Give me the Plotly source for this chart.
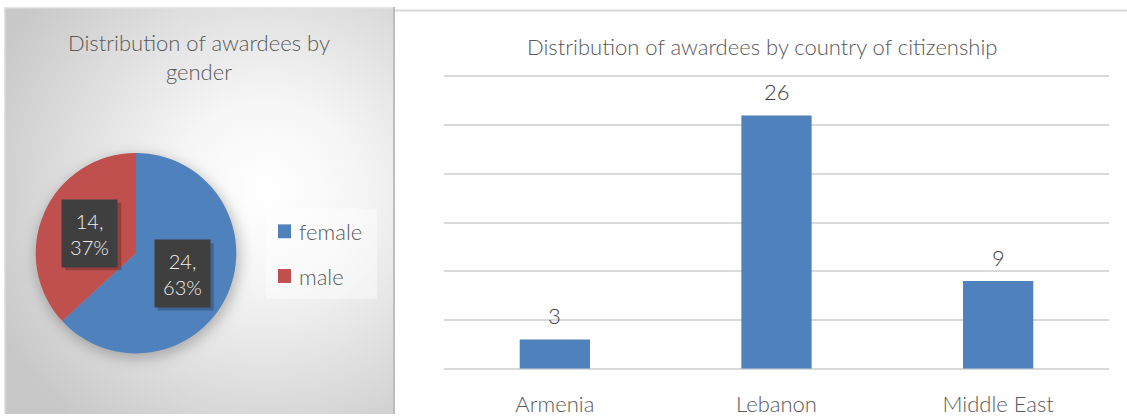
import base64
import math
import plotly.graph_objects as go

# ---------------- data ----------------
pie_title = "Distribution of awardees by<br>gender"
pie_labels = ["female", "male"]
pie_values = [24, 14]
pie_colors = ["#4F81BD", "#C0504D"]

bar_title = "Distribution of awardees by country of citizenship"
bar_categories = ["Armenia", "Lebanon", "Middle East"]
bar_values = [3, 26, 9]
bar_color = "#4F81BD"
y_ticks = [0, 5, 10, 15, 20, 25, 30]

W, H = 1127, 417
FONT = "Lato"
WEIGHT = 300


def fx(px):
    return px / W


def fy(py):
    return 1 - py / H


# ---------------- layout geometry (pixels) ----------------
panel_l, panel_t, panel_r, panel_b = 4, 7, 393, 417
pie_cx, pie_cy, pie_r = 136, 255, 101
base_px, top_px = 371.5, 77.0          # pixel rows of y=0 and y=30
y_max = 31
unit = (base_px - top_px) / 30
plot_top_px = base_px - unit * y_max

fig = go.Figure()

# pie
fig.add_trace(go.Pie(
    labels=pie_labels, values=pie_values, sort=False,
    direction="clockwise", rotation=0,
    marker=dict(colors=pie_colors, line=dict(width=0)),
    textinfo="none", hoverinfo="label+value+percent", showlegend=False,
    domain=dict(x=[fx(pie_cx - pie_r), fx(pie_cx + pie_r)],
                y=[fy(pie_cy + pie_r), fy(pie_cy - pie_r)]),
))

# bars
fig.add_trace(go.Bar(
    x=bar_categories, y=bar_values, marker=dict(color=bar_color, line=dict(width=0)),
    width=0.317, showlegend=False, hoverinfo="x+y",
))

annotations = []
shapes = []

# bar value labels
for c, v in zip(bar_categories, bar_values):
    annotations.append(dict(x=c, y=v, xref="x", yref="y", text=str(v), showarrow=False,
                            yanchor="middle", yshift=24,
                            font=dict(family=FONT, size=22, color="#404040", weight=WEIGHT)))

# titles
annotations.append(dict(x=fx((panel_l + panel_r) / 2), y=fy(57), xref="paper", yref="paper",
                        text=pie_title, showarrow=False, xanchor="center", yanchor="middle",
                        font=dict(family=FONT, size=22, color="#595959", weight=WEIGHT)))
annotations.append(dict(x=fx(762), y=fy(47), xref="paper", yref="paper",
                        text=bar_title, showarrow=False, xanchor="center", yanchor="middle",
                        font=dict(family=FONT, size=22, color="#595959", weight=WEIGHT)))

# pie data labels (dark boxes) placed at slice mid-angles
total = sum(pie_values)
cum = 0
for v in pie_values:
    mid = (cum + v / 2) / total * 2 * math.pi
    cum += v
    lx = pie_cx + 0.5 * pie_r * math.sin(mid)
    ly = pie_cy - 0.5 * pie_r * math.cos(mid)
    pct = round(100 * v / total)
    bw, bh = 55, 67
    shapes.append(dict(type="rect", xref="paper", yref="paper",
                       x0=fx(lx - bw / 2 + 3), x1=fx(lx + bw / 2 + 4),
                       y0=fy(ly + bh / 2 + 4), y1=fy(ly - bh / 2 + 3),
                       fillcolor="rgba(0,0,0,0.22)", line=dict(width=0), layer="above"))
    annotations.append(dict(x=fx(lx), y=fy(ly), xref="paper", yref="paper",
                            text=f"{v},<br>{pct}%", showarrow=False,
                            xanchor="center", yanchor="middle", width=bw, height=bh,
                            bgcolor="#3f3f3f", borderpad=0,
                            font=dict(family=FONT, size=20, color="#eeeeee", weight=WEIGHT)))

# legend (manual)
shapes.append(dict(type="rect", xref="paper", yref="paper",
                   x0=fx(266), x1=fx(377), y0=fy(301), y1=fy(210),
                   fillcolor="rgba(255,255,255,0.45)", line=dict(width=0), layer="below"))
for i, (lab, col) in enumerate(zip(pie_labels, pie_colors)):
    cy = 233 + 45 * i
    shapes.append(dict(type="rect", xref="paper", yref="paper",
                       x0=fx(278), x1=fx(291), y0=fy(cy + 7), y1=fy(cy - 7),
                       fillcolor=col, line=dict(width=0)))
    annotations.append(dict(x=fx(297), y=fy(cy), xref="paper", yref="paper", text=lab,
                            showarrow=False, xanchor="left", yanchor="middle",
                            font=dict(family=FONT, size=22, color="#595959", weight=WEIGHT)))

# panel borders
shapes.append(dict(type="line", xref="paper", yref="paper", x0=fx(395), x1=1,
                   y0=fy(10.5), y1=fy(10.5), line=dict(color="#d9d9d9", width=2)))
shapes.append(dict(type="line", xref="paper", yref="paper", x0=fx(394), x1=fx(394),
                   y0=fy(panel_t), y1=0, line=dict(color="#bdbdbd", width=2)))

# gradient background for the left panel (SVG data URI)
pw, ph = panel_r - panel_l, panel_b - panel_t
scx, scy = pie_cx - panel_l, pie_cy - panel_t
svg = f"""<svg xmlns='http://www.w3.org/2000/svg' width='{pw}' height='{ph}'>
<defs>
<radialGradient id='g' cx='262' cy='185' r='300' gradientUnits='userSpaceOnUse'>
<stop offset='0' stop-color='#ffffff'/>
<stop offset='0.3' stop-color='#f6f6f6'/>
<stop offset='1' stop-color='#c8c8c8'/>
</radialGradient>
<filter id='b' x='-50%' y='-50%' width='200%' height='200%'><feGaussianBlur stdDeviation='7'/></filter>
</defs>
<rect width='{pw}' height='{ph}' fill='url(#g)'/>
<rect x='0' y='0' width='{pw}' height='1.5' fill='#e4e4e4'/>
<rect x='0' y='0' width='1.5' height='{ph}' fill='#e4e4e4'/>
<circle cx='{scx + 2}' cy='{scy + 4}' r='{pie_r + 1}' fill='#000' fill-opacity='0.25' filter='url(#b)'/>
</svg>"""
src = "data:image/svg+xml;base64," + base64.b64encode(svg.encode()).decode()

fig.update_layout(
    width=W, height=H, margin=dict(l=0, r=0, t=0, b=0),
    paper_bgcolor="white", plot_bgcolor="rgba(0,0,0,0)",
    images=[dict(source=src, xref="paper", yref="paper", x=fx(panel_l), y=fy(panel_t),
                 sizex=pw / W, sizey=ph / H, sizing="stretch", xanchor="left",
                 yanchor="top", layer="below")],
    xaxis=dict(domain=[fx(444), fx(1109)], showgrid=False, zeroline=False, showline=False,
               ticks="", ticklabelstandoff=20,
               tickfont=dict(family=FONT, size=22, color="#595959", weight=WEIGHT),
               fixedrange=True),
    yaxis=dict(domain=[fy(base_px), fy(plot_top_px)], range=[0, y_max], tickvals=y_ticks,
               showgrid=True, gridcolor="#d9d9d9", gridwidth=1.5, zeroline=True,
               zerolinecolor="#d9d9d9", zerolinewidth=1.5, showticklabels=False, ticks="",
               fixedrange=True),
    annotations=annotations, shapes=shapes, bargap=0.68,
)

fig.write_html("out.html", config={"displayModeBar": False},
               post_script="document.body.style.margin='0';document.body.style.overflow='hidden';")
